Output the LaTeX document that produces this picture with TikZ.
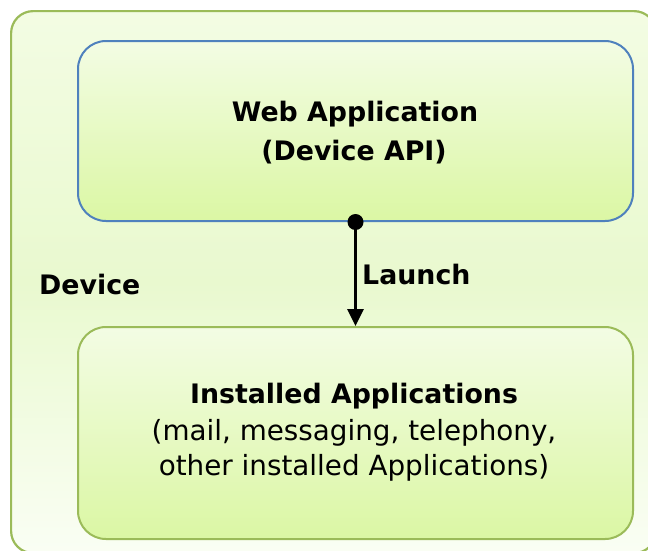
\documentclass[tikz,border=0pt]{standalone}
\usepackage{fontspec}
\setmainfont{DejaVu Sans}
\usetikzlibrary{arrows.meta}
\definecolor{outerline}{HTML}{9BBB59}
\definecolor{blueline}{HTML}{4F81BD}
\definecolor{boxtop}{HTML}{F3FCE4}
\definecolor{boxbot}{HTML}{DBF7A4}
\definecolor{outtop}{HTML}{F3FCE3}
\definecolor{outmid}{HTML}{E9F9CF}
\definecolor{outbot}{HTML}{FAFEF4}
\tikzset{
  appbox/.style={draw, line width=2pt, rounded corners=28pt, top color=boxtop, bottom color=boxbot, minimum width=555pt, inner sep=0pt},
  devbox/.style={draw=outerline, line width=2.2pt, rounded corners=22pt, top color=outtop, bottom color=outbot, middle color=outmid},
  lbl/.style={font=\bfseries\fontsize{26.8}{30}\selectfont, text=black},
  reg/.style={font=\fontsize{27.8}{30}\selectfont, text=black},
}
\begin{document}
\begin{tikzpicture}[x=1pt,y=-1pt]
\useasboundingbox (0,0) rectangle (648,550);
\node[devbox, minimum width=645pt, minimum height=542pt, anchor=north west] (dev) at (10,10) {};
\node[appbox, draw=blueline, minimum height=180pt, anchor=north west] (web) at (77,40) {};
\node[appbox, draw=outerline, minimum height=212pt, anchor=north west] (inst) at (77,326) {};
\node[lbl, anchor=base] (webt1) at (355,121) {Web Application};
\node[lbl, anchor=base] (webt2) at (354,160) {(Device API)};
\node[lbl, anchor=base] (instt1) at (354,403) {Installed Applications};
\node[reg, anchor=base] (instt2) at (354,440) {(mail, messaging, telephony,};
\node[reg, anchor=base] (instt3) at (354,475) {other installed Applications)};
\node[lbl, anchor=base west, inner sep=0pt] (devlbl) at (39,294) {Device};
\coordinate (s) at (web.south);
\fill (s) circle (8pt);
\draw[line width=3pt, -{Triangle[width=16pt,length=17pt]}] (s) -- (inst.north);
\node[lbl, anchor=base west, inner sep=0pt] (launch) at (362,284) {Launch};
\end{tikzpicture}
\end{document}
